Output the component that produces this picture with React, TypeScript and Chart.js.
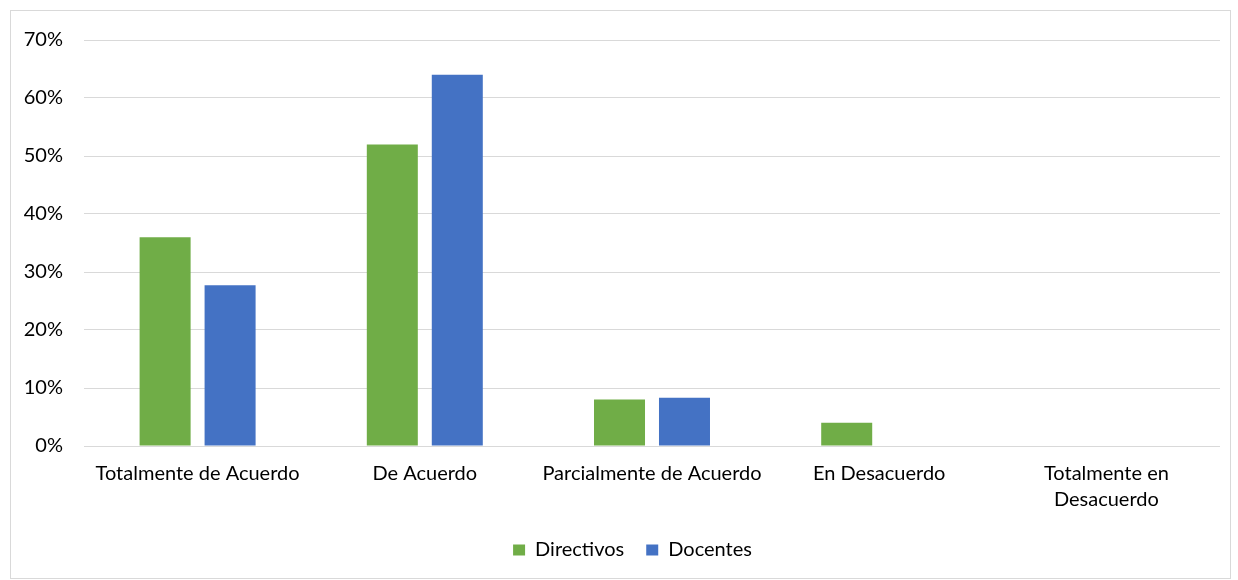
import React, { useEffect, useRef } from "react";
import { Chart, registerables } from "chart.js";

Chart.register(...registerables);

const categories: (string | string[])[] = [
  "Totalmente de Acuerdo",
  "De Acuerdo",
  "Parcialmente de Acuerdo",
  "En Desacuerdo",
  ["Totalmente en", "Desacuerdo"],
];
const directivos = [0.36, 0.52, 0.08, 0.04, 0];
const docentes = [0.277, 0.64, 0.083, 0, 0];
const yTicks = [0, 0.1, 0.2, 0.3, 0.4, 0.5, 0.6, 0.7];

const FONT = "Lato, 'Open Sans', sans-serif";

const shiftLegend = {
  id: "shiftLegend",
  afterLayout(chart: any) {
    const l = chart.legend;
    if (l) {
      l.left += 17;
      l.right += 17;
    }
  },
};

export default function App() {
  const ref = useRef<HTMLCanvasElement>(null);
  useEffect(() => {
    if (!ref.current) return;
    const chart = new Chart(ref.current, {
      type: "bar",
      data: {
        labels: categories,
        datasets: [
          {
            label: "Directivos",
            data: directivos,
            backgroundColor: "#70AD47",
            categoryPercentage: 0.572,
            barPercentage: 0.785,
          },
          {
            label: "Docentes",
            data: docentes,
            backgroundColor: "#4472C4",
            categoryPercentage: 0.572,
            barPercentage: 0.785,
          },
        ],
      },
      plugins: [shiftLegend],
      options: {
        animation: false,
        responsive: true,
        maintainAspectRatio: false,
        layout: { padding: { top: 29, right: 10, left: 0, bottom: 8 } },
        plugins: {
          tooltip: { enabled: false },
          legend: {
            position: "bottom",
            labels: {
              boxWidth: 12,
              boxHeight: 11,
              padding: 22,
              color: "#000",
              font: { family: FONT, size: 20 },
            },
          },
        },
        scales: {
          x: {
            afterFit: (scale: any) => {
              scale.height -= 10;
            },
            grid: { display: false, drawTicks: false },
            border: { display: false },
            ticks: {
              color: "#000",
              padding: 15,
              maxRotation: 0,
              autoSkip: false,
              font: { family: FONT, size: 20, lineHeight: 1.3 },
            },
          },
          y: {
            min: 0,
            max: 0.7,
            afterFit: (scale: any) => {
              scale.width = 73;
              scale.paddingTop = 0;
              scale.paddingBottom = 0;
            },
            afterBuildTicks: (scale: any) => {
              scale.ticks = yTicks.map((v) => ({ value: v }));
            },
            grid: { color: "#D9D9D9", lineWidth: 1, drawTicks: false },
            border: { display: false },
            ticks: {
              color: "#000",
              padding: 21,
              font: { family: FONT, size: 20 },
              callback: (v: any) => Math.round(Number(v) * 100) + "%",
            },
          },
        },
      },
    });
    return () => chart.destroy();
  }, []);
  return (
    <div
      style={{
        position: "absolute",
        left: 10,
        top: 10,
        width: 1221,
        height: 569,
        border: "1px solid #D9D9D9",
        boxSizing: "border-box",
        background: "#fff",
      }}
    >
      <canvas ref={ref} />
    </div>
  );
}
